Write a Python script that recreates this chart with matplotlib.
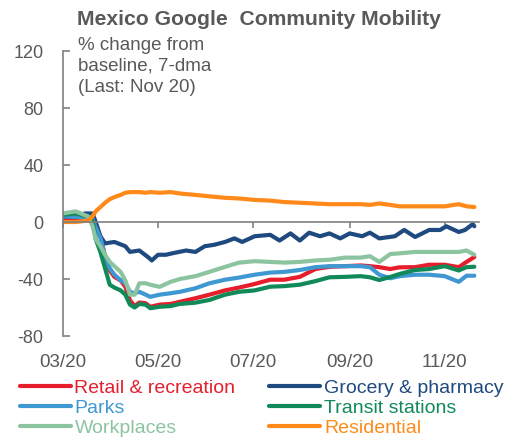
# Mexico Google Community Mobility chart
# Redraws the 7-day moving average of mobility changes by place category.

import pandas as pd
import matplotlib
matplotlib.use("Agg")
import matplotlib.pyplot as plt
import matplotlib.dates as mdates

# Dates shared by most series
dates = ['2020-03-01', '2020-03-09', '2020-03-17', '2020-03-20', '2020-03-22',
         '2020-03-25', '2020-03-28', '2020-03-31', '2020-04-03', '2020-04-07',
         '2020-04-10', '2020-04-13', '2020-04-16', '2020-04-19', '2020-04-23',
         '2020-04-26', '2020-05-02', '2020-05-09', '2020-05-15', '2020-05-25',
         '2020-06-03', '2020-06-13', '2020-06-22', '2020-07-02', '2020-07-12',
         '2020-07-21', '2020-07-31', '2020-08-10', '2020-08-19', '2020-08-29',
         '2020-09-08', '2020-09-14', '2020-09-20', '2020-09-27', '2020-10-03',
         '2020-10-13', '2020-10-22', '2020-11-01', '2020-11-10', '2020-11-15',
         '2020-11-20']

retail = [1.5, 1.5, 1.5, 0, -5, -10, -24, -34, -38.5, -41,
          -45.5, -55, -59, -56.5, -57, -59.5, -58, -57.5, -56, -53.5,
          -51, -48, -46, -43.5, -40.5, -40.5, -38.5, -33, -31.4, -31,
          -30.5, -31, -31.7, -33, -31.8, -31.7, -30, -30, -31.7, -28,
          -24.6]

parks = [4, 3.5, 3.5, 2, -4, -11, -24, -32.5, -37, -41,
         -43, -49, -50, -49, -51, -52.5, -51, -50, -49, -46.5,
         -43, -40.5, -39, -37, -35.5, -35, -33.7, -31.7, -31, -31,
         -31, -31.7, -37, -39.5, -38, -37, -37, -38, -42, -37.7,
         -37.7]

workplaces = [6, 7.5, 4, -3, -12, -17, -23, -28, -31, -35,
              -41, -51, -51, -43, -43, -44, -45.5, -42, -40, -38,
              -35, -31.5, -28.5, -27.5, -28, -28.5, -28, -27, -26.5, -25,
              -25, -24, -28, -22.5, -22, -21, -21, -21, -21, -20,
              -23]

transit = [5, 6, 4, 1, -12, -21, -32.5, -44, -46, -48,
           -51, -58, -60, -57.5, -58, -60.5, -59.5, -59, -57.5, -56.6,
           -54.7, -51, -49, -48, -45.4, -45, -44, -41.5, -38.8, -38.5,
           -38, -38.8, -40.7, -38.6, -36.5, -33.7, -33, -31, -34, -31.7,
           -31.4]

residential = [0, 0, 1, 4, 7.5, 10.5, 13.5, 16, 17.5, 19,
               20.5, 21, 21, 21, 20.5, 21, 20.5, 21, 20, 19,
               18, 17, 16.5, 15.5, 15, 14, 13.5, 13, 12.5, 12.5,
               12.5, 12, 13, 12, 11, 11, 11, 11, 12.5, 11,
               10.5]

# Grocery is more jagged, so it gets its own dates
grocery_dates = ['2020-03-01', '2020-03-10', '2020-03-15', '2020-03-20', '2020-03-22',
                 '2020-03-25', '2020-03-28', '2020-04-03', '2020-04-10', '2020-04-13',
                 '2020-04-19', '2020-04-25', '2020-04-27', '2020-05-01', '2020-05-06',
                 '2020-05-10', '2020-05-19', '2020-05-25', '2020-05-31', '2020-06-06',
                 '2020-06-13', '2020-06-19', '2020-06-24', '2020-07-02', '2020-07-12',
                 '2020-07-18', '2020-07-25', '2020-07-31', '2020-08-06', '2020-08-13',
                 '2020-08-19', '2020-08-26', '2020-09-01', '2020-09-09', '2020-09-14',
                 '2020-09-20', '2020-09-30', '2020-10-06', '2020-10-13', '2020-10-22',
                 '2020-10-29', '2020-11-02', '2020-11-10', '2020-11-14', '2020-11-19',
                 '2020-11-20']
grocery = [3.7, 3.7, 6, 6, 0, -10, -15, -14, -17, -21,
           -20, -25, -27, -23, -23, -22, -20, -21, -17, -16,
           -14, -11.5, -14, -10, -9, -13, -8, -13, -7.5, -10,
           -8, -11.5, -8, -10, -7.5, -11.5, -10, -5.6, -10.5, -5.6,
           -5.6, -3, -7, -5.6, -1.5, -3]

labels = ['Retail & recreation', 'Grocery & pharmacy', 'Parks',
          'Transit stations', 'Workplaces', 'Residential']
colors = ['#E61E2B', '#1F4A80', '#3F98D2', '#108A58', '#8CC4A0', '#FF8A1A']

yticks = [-80, -40, 0, 40, 80, 120]
grey = '#595959'

plt.rcParams['font.family'] = ['Liberation Sans', 'DejaVu Sans']
plt.rcParams['axes.unicode_minus'] = False

W, H = 513, 440
fig = plt.figure(figsize=(W / 100, H / 100), dpi=100)
ax = fig.add_axes([63 / W, 1 - 336 / H, (479 - 63) / W, (336 - 51) / H])

d = pd.to_datetime(dates)
series = {
    'Retail & recreation': (d, retail),
    'Grocery & pharmacy': (pd.to_datetime(grocery_dates), grocery),
    'Parks': (d, parks),
    'Transit stations': (d, transit),
    'Workplaces': (d, workplaces),
    'Residential': (d, residential),
}

handles = {}
for name, col in zip(labels, colors):
    x, y = series[name]
    line, = ax.plot(x, y, color=col, lw=3, solid_capstyle='round',
                    solid_joinstyle='round', label=name)
    handles[name] = line

ax.set_ylim(-80, 120)
ax.set_xlim(pd.Timestamp('2020-03-01'), pd.Timestamp('2020-11-23'))
ax.set_yticks(yticks)

for s in ['top', 'right']:
    ax.spines[s].set_visible(False)
ax.spines['left'].set_color('#808080')
ax.spines['left'].set_linewidth(1.2)
ax.spines['bottom'].set_position(('data', 0))
ax.spines['bottom'].set_color('#808080')
ax.spines['bottom'].set_linewidth(1.2)

ax.tick_params(axis='y', direction='in', length=5, width=1.2, color='#808080',
               labelsize=13, labelcolor=grey, pad=14)
ax.tick_params(axis='x', direction='out', length=4, width=1.2, color='#808080',
               labelbottom=False)

locator = mdates.MonthLocator(bymonth=[3, 5, 7, 9, 11])
fmt = mdates.DateFormatter('%m/%y')
ax.xaxis.set_major_locator(locator)

# tick labels sit below the plot, not on the zero line
sec = ax.secondary_xaxis(0)
sec.xaxis.set_major_locator(locator)
sec.xaxis.set_major_formatter(fmt)
sec.spines['bottom'].set_visible(False)
sec.tick_params(axis='x', length=0, labelsize=13.5, labelcolor=grey, pad=13)

fig.text(77 / W, 1 - 25 / H, 'Mexico Google  Community Mobility',
         fontsize=15.2, fontweight='bold', color=grey, va='baseline')
fig.text(78 / W, 1 - 37 / H, '% change from\nbaseline, 7-dma\n(Last: Nov 20)',
         fontsize=13.5, color=grey, va='top', linespacing=1.3)

order = ['Retail & recreation', 'Parks', 'Workplaces',
         'Grocery & pharmacy', 'Transit stations', 'Residential']
fig.legend([handles[n] for n in order], order, loc='upper left',
           bbox_to_anchor=(20 / W, 1 - 379 / H), ncol=2, frameon=False,
           fontsize=14, labelcolor='linecolor', handlelength=2.6,
           handletextpad=0.2, columnspacing=1.75, labelspacing=0.13,
           borderpad=0, borderaxespad=0)

fig.savefig('out.png', dpi=100)
